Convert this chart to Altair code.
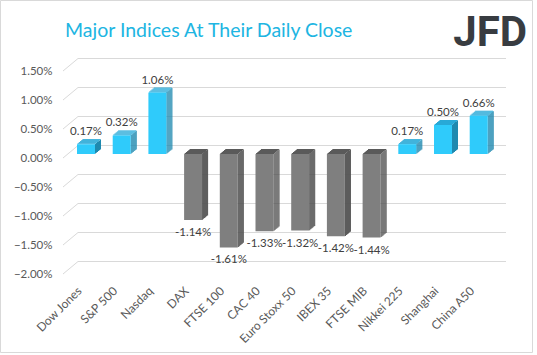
import altair as alt
import pandas as pd

TITLE = "Major Indices At Their Daily Close"
LOGO = "JFD"
categories = ["Dow Jones", "S&P 500", "Nasdaq", "DAX", "FTSE 100", "CAC 40",
              "Euro Stoxx 50", "IBEX 35", "FTSE MIB", "Nikkei 225", "Shanghai", "China A50"]
values = [0.17, 0.32, 1.06, -1.14, -1.61, -1.33, -1.32, -1.42, -1.44, 0.17, 0.50, 0.66]
y_ticks = [-2.0, -1.5, -1.0, -0.5, 0.0, 0.5, 1.0, 1.5]

df = pd.DataFrame({"cat": categories, "v": values})
df["lbl"] = [f"{v:.2f}%" for v in values]
df["lvl"] = [max(v, 0) for v in values]
ticks = pd.DataFrame({"t": y_ticks})

W, H = 443, 203
FONT = "Lato"
BW = 18          # front face width (px)
DX, DY = 6, 5    # 3-D depth of the bars (px)
BASE = -4        # bars sit slightly behind the front plane

xscale = alt.Scale(domain=categories, paddingInner=0, paddingOuter=0.2045, align=0.353)
yscale = alt.Scale(domain=[-2.0, 1.5], nice=False, zero=False)

xaxis = alt.Axis(labelAngle=-45, domain=False, ticks=False, labelPadding=11, labelOffset=-10,
                 labelFont=FONT, labelFontSize=12, labelColor="#595959")
yaxis = alt.Axis(values=y_ticks, labelExpr="format(datum.value, '.2f') + '%'",
                 domain=False, ticks=False, grid=False, labelPadding=11,
                 labelFont=FONT, labelFontSize=11.5, labelColor="#595959")

X = alt.X("cat:N", sort=categories, scale=xscale, title=None, axis=xaxis)
def Y(f):
    return alt.Y(f, scale=yscale, title=None, axis=yaxis)

pos = alt.datum.v > 0
def col(a, b):
    return alt.when(pos).then(alt.value(a)).otherwise(alt.value(b))

grid_diag = alt.Chart(ticks).mark_rule(color="#d9d9d9", strokeWidth=1, y2Offset=-12.5).encode(
    x=alt.value(0), x2=alt.value(15), y=Y("t:Q"), y2=alt.Y2("t:Q"))
grid_back = alt.Chart(ticks).mark_rule(color="#d9d9d9", strokeWidth=1, yOffset=-12.5).encode(
    x=alt.value(15), x2=alt.value(443), y=Y("t:Q"))

layers = [grid_diag, grid_back]

# side face (parallelogram built from 1-px vertical strips)
for k in range(DX):
    off = BASE - (k + 0.5) * DY / DX
    layers.append(alt.Chart(df).mark_bar(size=1, xOffset=BW / 2 + k + 0.5,
                                         yOffset=off, y2Offset=off).encode(
        x=X, y=Y("v:Q"), y2=alt.datum(0), color=col("#1f89af", "#4e4e4e")))

# top face (parallelogram built from 1-px horizontal strips)
for j in range(DY):
    layers.append(alt.Chart(df).mark_bar(size=BW, xOffset=(j + 0.5) * DX / DY,
                                         yOffset=BASE - j - 1, y2Offset=BASE - j).encode(
        x=X, y=Y("lvl:Q"), y2=alt.Y2("lvl:Q"), color=col("#28a9d7", "#5a5a5a")))

front = alt.Chart(df).mark_bar(size=BW, yOffset=BASE, y2Offset=BASE).encode(
    x=X, y=Y("v:Q"), y2=alt.datum(0), color=col("#2fcbfb", "#7f7f7f"))

lab_pos = alt.Chart(df).transform_filter("datum.v > 0").mark_text(
    font=FONT, fontSize=11.5, color="#404040", baseline="middle", dy=-16).encode(
    x=X, y=Y("v:Q"), text="lbl:N")
lab_neg = alt.Chart(df).transform_filter("datum.v <= 0").mark_text(
    font=FONT, fontSize=11.5, color="#404040", baseline="middle", dy=9).encode(
    x=X, y=Y("v:Q"), text="lbl:N")

title = alt.Chart(pd.DataFrame({"t": [TITLE]})).mark_text(
    font=FONT, fontSize=19.5, color="#20b5e2", align="left", baseline="alphabetic").encode(
    x=alt.value(2), y=alt.value(-34), text="t:N")
logo = alt.Chart(pd.DataFrame({"t": [LOGO]})).mark_text(
    font="Roboto", fontSize=42, fontWeight="bold", color="#383c41", align="right",
    baseline="alphabetic").encode(x=alt.value(464), y=alt.value(-25.5), text="t:N")
border = alt.Chart(pd.DataFrame({"t": [0]})).mark_rect(
    fill=None, stroke="#d9d9d9", strokeWidth=1).encode(
    x=alt.value(-62.5), x2=alt.value(469.5), y=alt.value(-70.5), y2=alt.value(281.5))

layers += [front, lab_pos, lab_neg, title, logo, border]

chart = alt.layer(*layers).properties(
    width=W, height=H,
    autosize=alt.AutoSizeParams(type="none"),
    padding={"left": 63, "top": 71, "right": 537 - 63 - W, "bottom": 355 - 71 - H},
    background="white",
).configure_view(strokeWidth=0)

chart.save("out.html", embed_options={"renderer": "svg", "actions": False})
